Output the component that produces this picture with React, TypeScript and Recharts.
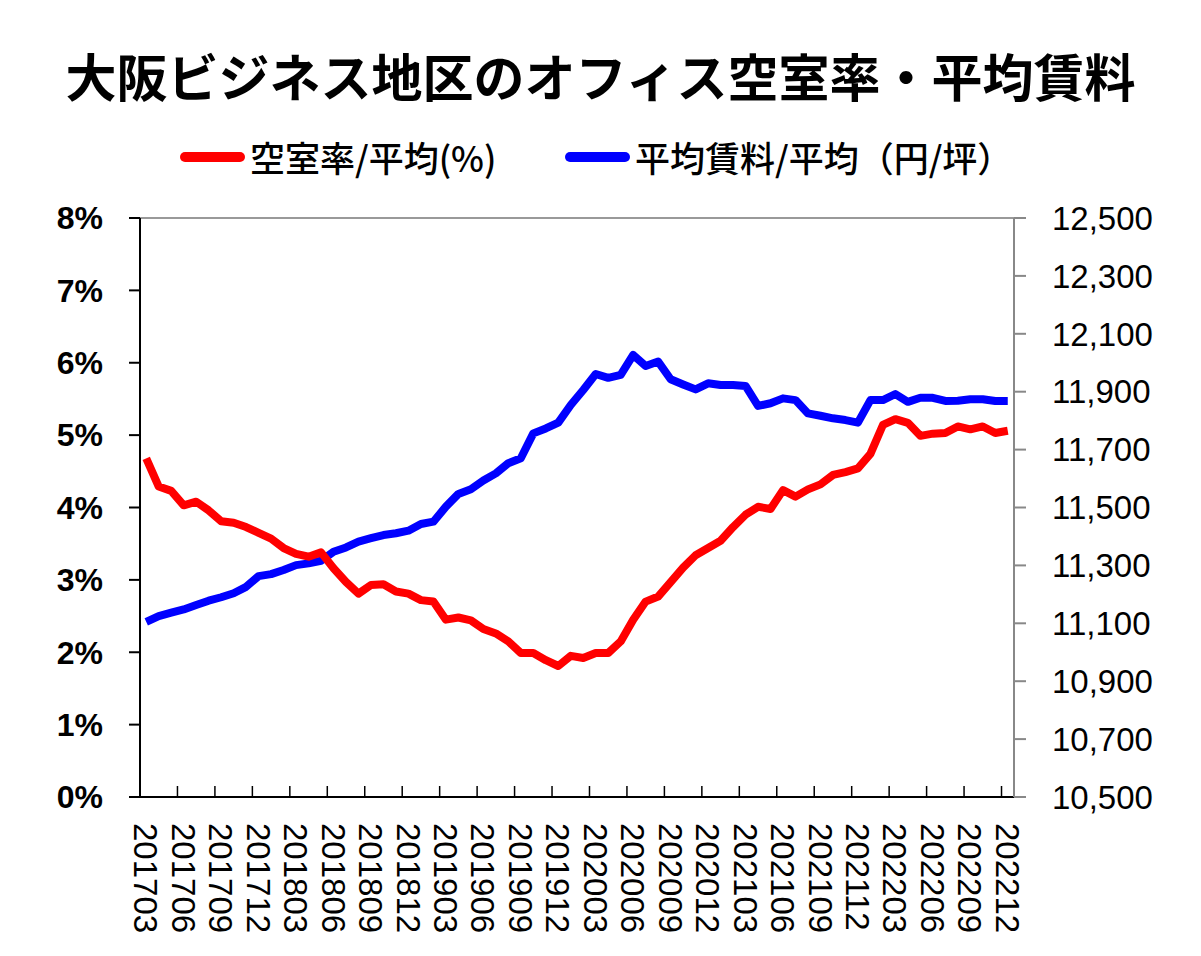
import React from 'react';
import { LineChart, Line, XAxis, YAxis, ReferenceLine } from 'recharts';

const MONTHS = [
  '201703', '201704', '201705', '201706', '201707', '201708', '201709', '201710', '201711', '201712',
  '201801', '201802', '201803', '201804', '201805', '201806', '201807', '201808', '201809', '201810',
  '201811', '201812', '201901', '201902', '201903', '201904', '201905', '201906', '201907', '201908',
  '201909', '201910', '201911', '201912', '202001', '202002', '202003', '202004', '202005', '202006',
  '202007', '202008', '202009', '202010', '202011', '202012', '202101', '202102', '202103', '202104',
  '202105', '202106', '202107', '202108', '202109', '202110', '202111', '202112', '202201', '202202',
  '202203', '202204', '202205', '202206', '202207', '202208', '202209', '202210', '202211', '202212',
];

// 空室率 (%)
const VACANCY = [
  4.68, 4.29, 4.23, 4.03, 4.08, 3.96, 3.81, 3.79, 3.73, 3.65,
  3.57, 3.44, 3.36, 3.32, 3.38, 3.16, 2.97, 2.81, 2.93, 2.94,
  2.84, 2.81, 2.72, 2.70, 2.45, 2.48, 2.44, 2.32, 2.26, 2.15,
  1.99, 1.99, 1.89, 1.81, 1.95, 1.92, 1.99, 1.99, 2.15, 2.45,
  2.70, 2.77, 2.97, 3.17, 3.34, 3.44, 3.54, 3.73, 3.90, 4.01,
  3.98, 4.24, 4.15, 4.25, 4.32, 4.45, 4.49, 4.54, 4.74, 5.14,
  5.22, 5.17, 4.99, 5.02, 5.03, 5.12, 5.08, 5.12, 5.03, 5.06,
];

// 平均賃料 (円/坪)
const RENT = [
  11105, 11125, 11137, 11148, 11163, 11178, 11190, 11204, 11226, 11263,
  11270, 11284, 11301, 11307, 11316, 11347, 11362, 11382, 11394, 11405,
  11411, 11420, 11443, 11451, 11503, 11547, 11563, 11593, 11618, 11653,
  11670, 11756, 11773, 11793, 11854, 11906, 11961, 11948, 11958, 12027,
  11989, 12004, 11943, 11925, 11908, 11929, 11923, 11923, 11920, 11851,
  11860, 11877, 11871, 11825, 11817, 11808, 11802, 11793, 11871, 11871,
  11892, 11865, 11879, 11879, 11868, 11869, 11874, 11874, 11868, 11868,
];

const TICK_MONTHS = [
  '201703', '201706', '201709', '201712', '201803', '201806', '201809', '201812',
  '201903', '201906', '201909', '201912', '202003', '202006', '202009', '202012',
  '202103', '202106', '202109', '202112', '202203', '202206', '202209', '202212',
];

const VACANCY_TICKS = [0, 1, 2, 3, 4, 5, 6, 7, 8];
const RENT_TICKS = [10500, 10700, 10900, 11100, 11300, 11500, 11700, 11900, 12100, 12300, 12500];

const SERIES = [
  { key: 'vacancy', name: '空室率/平均(%)', color: '#FF0000' },
  { key: 'rent', name: '平均賃料/平均（円/坪）', color: '#0000FF' },
];

const data = MONTHS.map((m, i) => ({ i, month: m, vacancy: VACANCY[i], rent: RENT[i] }));
const xTicks = TICK_MONTHS.map((m) => MONTHS.indexOf(m));

const W = 1201;
const H = 956;
const PLOT_LEFT = 140;
const PLOT_RIGHT = 1014;
const HALF_BAND = (PLOT_RIGHT - PLOT_LEFT) / MONTHS.length / 2;
const TICK_FONT = '"Liberation Sans", Arial, sans-serif';

function MonthTick(props: any) {
  const { x, y, payload } = props;
  const label = MONTHS[payload.value];
  return (
    <g>
      <line x1={x - HALF_BAND} x2={x - HALF_BAND} y1={y} y2={y - 11} stroke="#000" strokeWidth={1.5} />
      <text
        transform={`translate(${x},${y + 26}) rotate(90)`}
        dy="0.36em"
        textAnchor="start"
        fontSize={33}
        fontFamily={TICK_FONT}
        fill="#000"
      >
        {label}
      </text>
    </g>
  );
}

export default function App() {
  return (
    <div style={{ position: 'absolute', left: 0, top: 0, width: W, height: H, background: '#fff' }}>
      <div
        style={{
          position: 'absolute',
          left: 0,
          top: 45,
          width: W,
          textAlign: 'center',
          fontFamily: '"Noto Sans CJK JP", sans-serif',
          fontWeight: 700,
          fontSize: 51,
          lineHeight: '60px',
          color: '#000',
        }}
      >
        大阪ビジネス地区のオフィス空室率・平均賃料
      </div>

      {SERIES.map((s, idx) => {
        const left = idx === 0 ? 180 : 565;
        return (
          <div key={s.key}>
            <div
              style={{
                position: 'absolute',
                left,
                top: 152,
                width: 65,
                height: 10,
                borderRadius: 5,
                background: s.color,
              }}
            />
            <div
              style={{
                position: 'absolute',
                left: left + 70,
                top: 136,
                lineHeight: '42px',
                fontSize: 35,
                fontWeight: 500,
                fontFamily: '"Noto Sans CJK JP", sans-serif',
                color: '#000',
                whiteSpace: 'nowrap',
              }}
            >
              {s.name}
            </div>
          </div>
        );
      })}

      <div style={{ position: 'absolute', left: 0, top: 0 }}>
        <LineChart width={W} height={H} data={data} margin={{ top: 218, right: 0, bottom: 0, left: 0 }}>
          <XAxis
            dataKey="i"
            type="number"
            domain={[-0.5, MONTHS.length - 0.5]}
            ticks={xTicks}
            interval={0}
            height={159}
            tickSize={0}
            tickMargin={0}
            tickLine={false}
            axisLine={{ stroke: '#000', strokeWidth: 2 }}
            tick={<MonthTick />}
          />
          <YAxis
            yAxisId="vacancy"
            domain={[0, 8]}
            ticks={VACANCY_TICKS}
            interval={0}
            width={140}
            tickSize={11}
            tickMargin={26}
            tickFormatter={(v: number) => `${v}%`}
            axisLine={{ stroke: '#000', strokeWidth: 2 }}
            tickLine={{ stroke: '#000', strokeWidth: 2 }}
            tick={{ fill: '#000', fontSize: 32, fontWeight: 700, fontFamily: TICK_FONT }}
          />
          <YAxis
            yAxisId="rent"
            orientation="right"
            domain={[10500, 12500]}
            ticks={RENT_TICKS}
            interval={0}
            width={187}
            tickSize={12}
            tickMargin={26}
            tickFormatter={(v: number) => v.toLocaleString('en-US')}
            axisLine={{ stroke: '#888', strokeWidth: 2 }}
            tickLine={{ stroke: '#888', strokeWidth: 2 }}
            tick={{ fill: '#000', fontSize: 33, fontFamily: TICK_FONT }}
          />
          <ReferenceLine yAxisId="vacancy" y={8} stroke="#999" strokeWidth={2} />
          <Line
            yAxisId="rent"
            dataKey="rent"
            stroke="#0000FF"
            strokeWidth={8}
            strokeLinejoin="round"
            dot={false}
            isAnimationActive={false}
          />
          <Line
            yAxisId="vacancy"
            dataKey="vacancy"
            stroke="#FF0000"
            strokeWidth={8}
            strokeLinejoin="round"
            dot={false}
            isAnimationActive={false}
          />
        </LineChart>
      </div>
    </div>
  );
}
